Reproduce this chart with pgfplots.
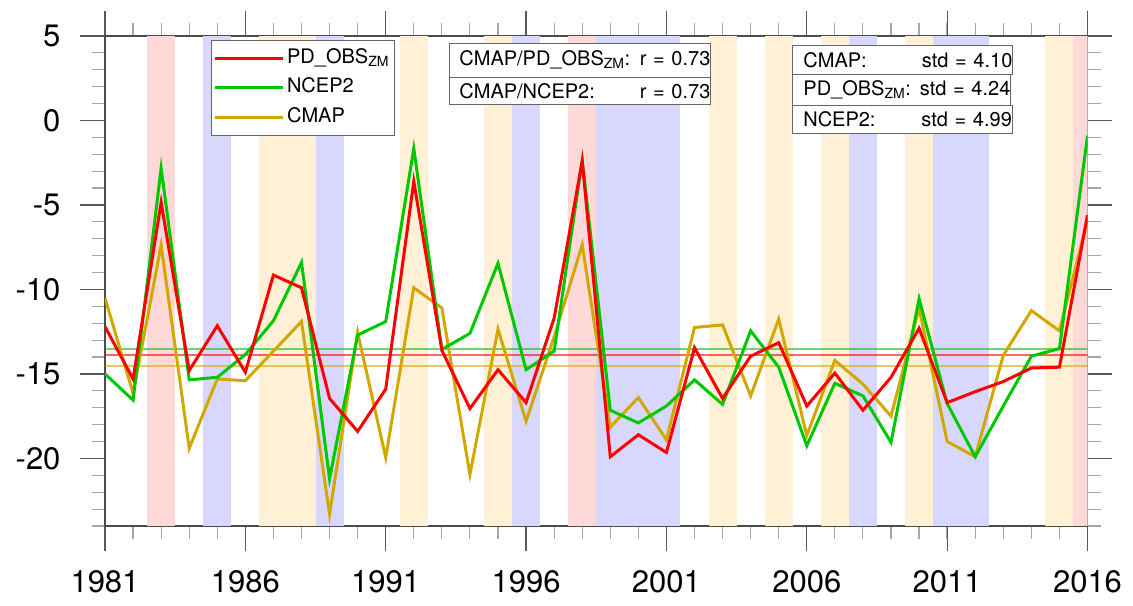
\documentclass[border=0pt]{standalone}
\usepackage{pgfplots}
\pgfplotsset{compat=1.18}
\usepackage{pgfplotstable}
\usepackage{fontspec}
\setmainfont{TeX Gyre Heros}
\usetikzlibrary{calc}

\definecolor{cobs}{RGB}{255,0,0}
\definecolor{cncep}{RGB}{0,200,0}
\definecolor{ccmap}{RGB}{210,168,0}
\definecolor{shpink}{RGB}{255,216,216}
\definecolor{shblue}{RGB}{216,216,255}
\definecolor{shorange}{RGB}{255,240,214}

% annual values
\pgfplotstableread{
year  obs     ncep    cmap
1981  -12.2   -15.0   -10.5
1982  -15.3   -16.55  -16.15
1983  -4.85   -2.82   -7.38
1984  -14.8   -15.35  -19.4
1985  -12.15  -15.2   -15.3
1986  -14.9   -13.85  -15.4
1987  -9.15   -11.85  -13.65
1988  -9.9    -8.4    -11.9
1989  -16.45  -21.2   -23.3
1990  -18.4   -12.7   -12.55
1991  -15.9   -11.9   -19.95
1992  -3.6    -1.66   -9.9
1993  -13.6   -13.55  -11.1
1994  -17.05  -12.6   -20.95
1995  -14.75  -8.45   -12.35
1996  -16.7   -14.75  -17.8
1997  -11.7   -13.65  -12.8
1998  -2.4    -2.35   -7.35
1999  -19.9   -17.15  -18.15
2000  -18.6   -17.9   -16.4
2001  -19.65  -16.9   -18.9
2002  -13.45  -15.35  -12.25
2003  -16.45  -16.8   -12.1
2004  -13.95  -12.45  -16.3
2005  -13.15  -14.6   -11.75
2006  -16.9   -19.25  -18.65
2007  -14.95  -15.55  -14.2
2008  -17.15  -16.3   -15.6
2009  -15.2   -19.05  -17.5
2010  -12.3   -10.55  -11.1
2011  -16.7   -16.75  -19.0
2012  -16.05  -19.9   -19.9
2013  -15.45  -16.9   -13.9
2014  -14.65  -13.95  -11.25
2015  -14.6   -13.5   -12.45
2016  -5.6    -0.9    -5.9
}\data

\newcommand{\yrband}[3]{\addplot[fill=#1, draw=none, forget plot] coordinates {(#2,-24) (#3,-24) (#3,5) (#2,5)} -- cycle;}

\tikzset{
  box/.style={draw=black!60, line width=0.8pt, fill=white, inner sep=0pt,
    font=\fontsize{20}{24}\selectfont, align=left, anchor=north west},
}

\begin{document}
\begin{tikzpicture}
\begin{axis}[
  scale only axis, width=982.5pt, height=490pt,
  xmin=1981, xmax=2016, ymin=-24, ymax=5,
  xtick={1981,1986,...,2016}, minor xtick={1981,...,2016},
  xticklabels={1981,1986,1991,1996,2001,2006,2011,2016},
  ytick={-20,-15,...,5}, minor ytick={-24,...,5},
  yticklabels={-20,-15,-10,-5,0,5},
  tick align=outside,
  major tick length=25pt, minor tick length=13pt,
  major tick style={line width=1.2pt, black!65},
  minor tick style={line width=1.2pt, black!35},
  axis line style={line width=1.5pt, black!70},
  tick label style={font=\fontsize{31}{36}\selectfont},
  xticklabel style={yshift=-16pt},
  yticklabel style={xshift=-16pt},
  legend style={at={(axis description cs:0.1076,0.9918)}, anchor=north west,
    draw=black!60, line width=0.8pt, font=\fontsize{20}{24}\selectfont,
    inner xsep=2pt, inner ysep=3pt,
    nodes={inner xsep=3pt, inner ysep=4.75pt, text height=15pt, text depth=5pt}},
  legend cell align=left,
  legend image code/.code={\draw[#1, line width=3pt] (0pt,0pt) -- (68pt,0pt);},
]
% shaded years
\yrband{shpink}{1982.5}{1983.5}
\yrband{shpink}{1997.5}{1998.5}
\yrband{shpink}{2015.5}{2016.5}
\yrband{shblue}{1984.5}{1985.5}
\yrband{shblue}{1988.5}{1989.5}
\yrband{shblue}{1995.5}{1996.5}
\yrband{shblue}{1998.5}{2001.5}
\yrband{shblue}{2007.5}{2008.5}
\yrband{shblue}{2010.5}{2012.5}
\yrband{shorange}{1986.5}{1988.5}
\yrband{shorange}{1991.5}{1992.5}
\yrband{shorange}{1994.5}{1995.5}
\yrband{shorange}{2002.5}{2003.5}
\yrband{shorange}{2004.5}{2005.5}
\yrband{shorange}{2006.5}{2007.5}
\yrband{shorange}{2009.5}{2010.5}
\yrband{shorange}{2014.5}{2015.5}

% means
\addplot[cncep, opacity=0.6, line width=2pt, forget plot] coordinates {(1981,-13.5) (2016,-13.5)};
\addplot[cobs, opacity=0.6, line width=2pt, forget plot] coordinates {(1981,-13.85) (2016,-13.85)};
\addplot[ccmap, opacity=0.6, line width=2pt, forget plot] coordinates {(1981,-14.54) (2016,-14.54)};

\addplot[ccmap, line width=3pt, forget plot] table[x=year, y=cmap] {\data};
\addplot[cncep, line width=3pt, forget plot] table[x=year, y=ncep] {\data};
\addplot[cobs, line width=3pt, forget plot] table[x=year, y=obs] {\data};

\addlegendimage{cobs}
\addlegendentry{PD\_OBS\textsubscript{ZM}}
\addlegendimage{cncep}
\addlegendentry{NCEP2}
\addlegendimage{ccmap}
\addlegendentry{CMAP}
\end{axis}

\node[box, text width=261pt, minimum height=34pt] at ($(current axis.north west)+(344pt,-6.7pt)$)
  {\hspace*{10pt}CMAP/PD\_OBS\textsubscript{ZM}:\hfill r = 0.73\hspace*{7pt}};
\node[box, text width=261pt, minimum height=27.3pt] at ($(current axis.north west)+(344pt,-40.7pt)$)
  {\hspace*{10pt}CMAP/NCEP2:\hfill r = 0.73\hspace*{7pt}};

\node[box, text width=220pt, minimum height=29.3pt] at ($(current axis.north west)+(687pt,-9pt)$)
  {\hspace*{11pt}CMAP:\hfill std = 4.10\hspace*{6.5pt}};
\node[box, text width=218pt, minimum height=30.7pt] at ($(current axis.north west)+(687pt,-38.3pt)$)
  {\hspace*{11pt}PD\_OBS\textsubscript{ZM}:\hfill std = 4.24\hspace*{6.5pt}};
\node[box, text width=219.5pt, minimum height=28.3pt] at ($(current axis.north west)+(687pt,-69pt)$)
  {\hspace*{11pt}NCEP2:\hfill std = 4.99\hspace*{6.5pt}};

\pgfresetboundingbox
\path[use as bounding box] ($(current axis.south west)+(-105pt,-79pt)$) rectangle ($(current axis.north east)+(45.5pt,36pt)$);
\end{tikzpicture}
\end{document}
